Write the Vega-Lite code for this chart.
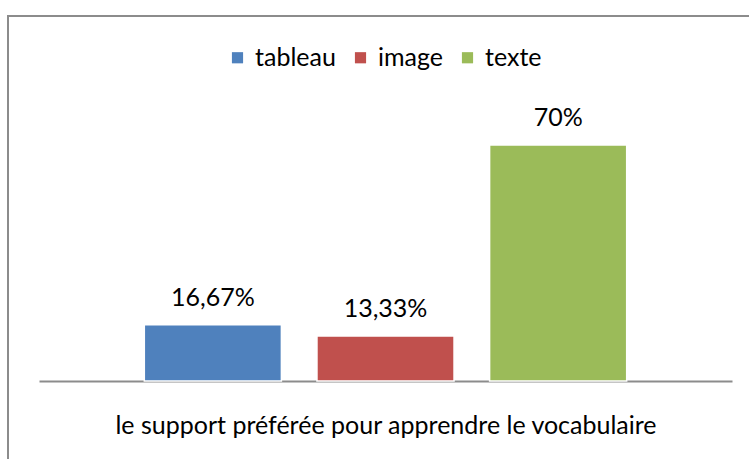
{
  "$schema": "https://vega.github.io/schema/vega-lite/v6.json",
  "autosize": {"type": "none"},
  "padding": {"left": 8, "top": 16, "right": 0, "bottom": 0},
  "width": 760,
  "height": 460,
  "background": "white",
  "config": {
    "view": {"stroke": "#8c8c8c", "strokeWidth": 2},
    "font": "Lato"
  },
  "data": {
    "values": [
      {"support": "tableau", "value": 16.67, "label": "16,67%"},
      {"support": "image", "value": 13.33, "label": "13,33%"},
      {"support": "texte", "value": 70, "label": "70%"}
    ]
  },
  "encoding": {
    "x": {
      "field": "support",
      "type": "nominal",
      "sort": ["tableau", "image", "texte"],
      "scale": {"range": [31, 724], "paddingInner": 0.206, "paddingOuter": 0.61},
      "axis": {
        "title": "le support préférée pour apprendre le vocabulaire",
        "titleFontSize": 25,
        "titleFont": "Lato",
        "titleFontWeight": "normal",
        "titleColor": "black",
        "titlePadding": 32,
        "labels": false,
        "ticks": false,
        "domainColor": "#8c8c8c",
        "domainWidth": 2,
        "offset": -95
      }
    },
    "y": {
      "field": "value",
      "type": "quantitative",
      "scale": {"domain": [0, 70], "range": [365, 129], "nice": false, "zero": true},
      "axis": null
    }
  },
  "layer": [
    {
      "mark": {"type": "bar", "stroke": "white", "strokeWidth": 1.5},
      "encoding": {
        "color": {
          "field": "support",
          "type": "nominal",
          "sort": ["tableau", "image", "texte"],
          "scale": {"domain": ["tableau", "image", "texte"], "range": ["#4F81BD", "#C0504D", "#9BBB59"]},
          "legend": {
            "title": null,
            "orient": "none",
            "direction": "horizontal",
            "legendX": 217,
            "legendY": 29,
            "symbolType": "square",
            "symbolSize": 125,
            "symbolStrokeWidth": 0,
            "labelFontSize": 25,
            "labelFont": "Lato",
            "labelColor": "black",
            "labelOffset": 5,
            "columnPadding": 12
          }
        }
      }
    },
    {
      "mark": {"type": "text", "baseline": "alphabetic", "dy": -19, "fontSize": 25, "color": "black"},
      "encoding": {"text": {"field": "label"}}
    }
  ]
}
